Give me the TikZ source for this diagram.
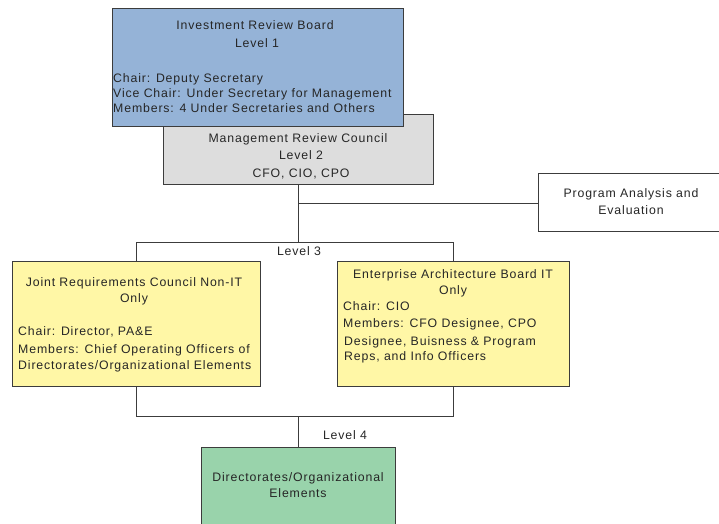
\documentclass[tikz,border=0pt]{standalone}
\usepackage{fontspec}
\setmainfont{Liberation Sans}[LetterSpace=7]
\definecolor{irbblue}{RGB}{149,179,215}
\definecolor{mrcgray}{RGB}{221,221,221}
\definecolor{jrcyellow}{RGB}{255,247,166}
\definecolor{dirgreen}{RGB}{153,211,171}
\definecolor{edge}{RGB}{60,60,60}
\begin{document}
\begin{tikzpicture}[x=1pt,y=-1pt,
  box/.style={draw=edge, line width=1pt, rectangle, inner sep=0pt, outer sep=0pt, anchor=north west},
  txt/.style={inner sep=0pt, text height=8.6pt, text depth=0pt, font=\fontsize{12.3}{14}\selectfont, text=black!85},
  ltxt/.style={txt, anchor=west},
  conn/.style={draw=edge, line width=1pt}]
\useasboundingbox (0,0) rectangle (719,523);
% boxes
\node[box, fill=mrcgray, minimum width=270pt, minimum height=70pt] (mrc) at (163,114) {};
\node[box, fill=irbblue, minimum width=291pt, minimum height=118pt] (irb) at (112,8) {};
\node[box, fill=white, minimum width=190pt, minimum height=58pt] (pae) at (538,173) {};
\node[box, fill=jrcyellow, minimum width=248pt, minimum height=125pt] (jrc) at (12,261) {};
\node[box, fill=jrcyellow, minimum width=232pt, minimum height=125pt] (eab) at (337,261) {};
\node[box, fill=dirgreen, minimum width=194pt, minimum height=90pt] (dir) at (201,447) {};
% junctions
\coordinate (j2) at (298,203);
\coordinate (j3) at (298,242);
\coordinate (j3L) at (136,242);
\coordinate (j3R) at (453,242);
\coordinate (j4) at (298,416);
\coordinate (j4L) at (136,416);
\coordinate (j4R) at (453,416);
% connectors
\draw[conn] (mrc.south -| j3) -- (j3);
\draw[conn] (j2) -- (pae.west |- j2);
\draw[conn] (j3L) -- (j3R);
\draw[conn] (j3L) -- (jrc.north -| j3L);
\draw[conn] (j3R) -- (eab.north -| j3R);
\draw[conn] (jrc.south -| j4L) -- (j4L) -- (j4R) -- (eab.south -| j4R);
\draw[conn] (j4) -- (dir.north -| j4);
% texts: IRB
\node[txt] (irb1) at (255,25) {Investment Review Board};
\node[txt] (irb2) at (257,43) {Level 1};
\node[ltxt] (irb3) at (113,78) {Chair: Deputy Secretary};
\node[ltxt] (irb4) at (113,93) {Vice Chair: Under Secretary for Management};
\node[ltxt] (irb5) at (113,108) {Members: 4 Under Secretaries and Others};
% MRC
\node[txt] (mrc1) at (298,138) {Management Review Council};
\node[txt] (mrc2) at (301,155) {Level 2};
\node[txt] (mrc3) at (301,173) {CFO, CIO, CPO};
% PA&E
\node[txt] (pae1) at (631,193) {Program Analysis and};
\node[txt] (pae2) at (631,210) {Evaluation};
% Level labels
\node[txt] (lv3) at (299,251) {Level 3};
\node[txt] (lv4) at (345,435) {Level 4};
% JRC
\node[txt] (jrc1) at (134,282) {Joint Requirements Council Non-IT};
\node[txt] (jrc2) at (134,298) {Only};
\node[ltxt] (jrc3) at (18,331) {Chair: Director, PA\&E};
\node[ltxt] (jrc4) at (18,349) {Members: Chief Operating Officers of};
\node[ltxt] (jrc5) at (18,365) {Directorates/Organizational Elements};
% EAB
\node[txt] (eab1) at (453,274) {Enterprise Architecture Board IT};
\node[txt] (eab2) at (453,290) {Only};
\node[ltxt] (eab3) at (343,306) {Chair: CIO};
\node[ltxt] (eab4) at (343,323) {Members: CFO Designee, CPO};
\node[ltxt] (eab5) at (344,341) {Designee, Buisness \& Program};
\node[ltxt] (eab6) at (344,356) {Reps, and Info Officers};
% Directorates
\node[txt] (dir1) at (298,477) {Directorates/Organizational};
\node[txt] (dir2) at (298,493) {Elements};
\end{tikzpicture}
\end{document}
